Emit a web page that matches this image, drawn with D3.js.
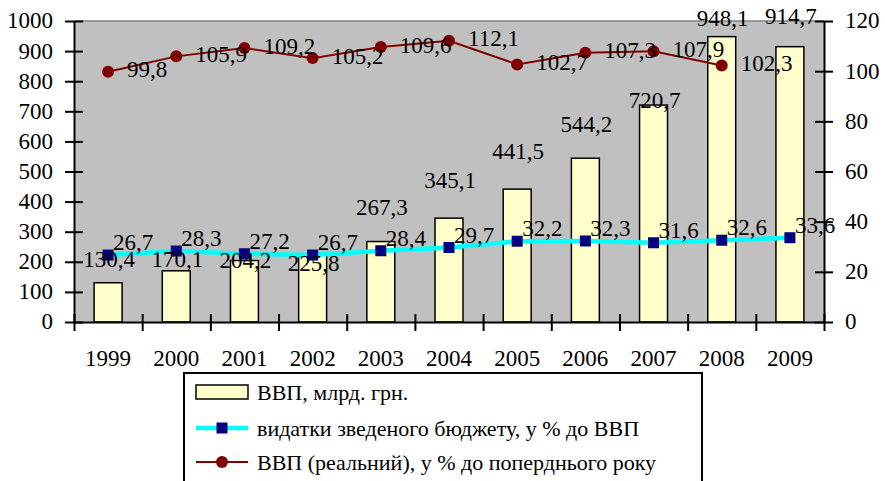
<!DOCTYPE html>
<html>
<head>
<meta charset="utf-8">
<script src="https://cdnjs.cloudflare.com/ajax/libs/d3/7.8.5/d3.min.js"></script>
<style>
  body { margin: 0; background: #fff; font-family: 'Liberation Serif', serif; }
  svg text { font-family: 'Liberation Serif', 'Times New Roman', serif !important; }
</style>
</head>
<body>
<div id="chart"></div>
<script>
// data
const years = ['1999', '2000', '2001', '2002', '2003', '2004', '2005', '2006', '2007', '2008', '2009'];
const gdp = [130.4, 170.1, 204.2, 225.8, 267.3, 345.1, 441.5, 544.2, 720.7, 948.1, 914.7];
const budgetShare = [26.7, 28.3, 27.2, 26.7, 28.4, 29.7, 32.2, 32.3, 31.6, 32.6, 33.6];
const realGdp = [99.8, 105.9, 109.2, 105.2, 109.6, 112.1, 102.7, 107.3, 107.9, 102.3];
const leftTicks = [0, 100, 200, 300, 400, 500, 600, 700, 800, 900, 1000];
const rightTicks = [0, 20, 40, 60, 80, 100, 120];
const legendLabels = ['ВВП, млрд. грн.', 'видатки зведеного бюджету, у % до ВВП', 'ВВП (реальний), у % до поперднього року'];

// bar labels were moved by hand in the original, baseline offset from bar top (px)
const barLabelNudge = [-16, -4, 7.5, 16.7, -26.5, -29.7, -29.8, -26.5, 3.3, -10.6, -22.7];

const W = 885, H = 481;
const pLeft = 74, pRight = 824, pTop = 21, pBottom = 322;
const fontSize = 23;
const serif = 'Liberation Serif';

const svg = d3.select('#chart').append('svg')
  .attr('width', W)
  .attr('height', H)
  .attr('font-family', serif);

const x = d3.scaleBand().domain(years).range([pLeft, pRight]).padding(0);
const xb = d3.scaleLinear().domain([0, years.length]).range([pLeft, pRight]);
const yL = d3.scaleLinear().domain([0, 1000]).range([pBottom, pTop]);
const yR = d3.scaleLinear().domain([0, 120]).range([pBottom, pTop]);
const cx = d => x(d) + x.bandwidth() / 2;

// plot area
svg.append('rect')
  .attr('x', pLeft).attr('y', pTop)
  .attr('width', pRight - pLeft).attr('height', pBottom - pTop)
  .attr('fill', '#c0c0c0');
svg.append('line')
  .attr('x1', pLeft).attr('x2', pRight)
  .attr('y1', pTop).attr('y2', pTop)
  .attr('stroke', '#808080').attr('stroke-width', 1.5);

// bars
const barW = x.bandwidth() * 0.41;
svg.selectAll('rect.bar')
  .data(gdp)
  .enter().append('rect')
  .attr('class', 'bar')
  .attr('x', (d, i) => cx(years[i]) - barW / 2)
  .attr('y', d => yL(d))
  .attr('width', barW)
  .attr('height', d => yL(0) - yL(d))
  .attr('fill', '#ffffcc')
  .attr('stroke', '#000')
  .attr('stroke-width', 1.5);

// axes
const axL = svg.append('g')
  .attr('transform', `translate(${pLeft},0)`)
  .call(d3.axisLeft(yL).tickValues(leftTicks).tickFormat(d3.format('d')).tickSize(9).tickPadding(12).tickSizeOuter(0));
axL.selectAll('.tick line').attr('x2', 9).attr('x1', -9);
const axR = svg.append('g')
  .attr('transform', `translate(${pRight},0)`)
  .call(d3.axisRight(yR).tickValues(rightTicks).tickFormat(d3.format('d')).tickSize(9).tickPadding(12).tickSizeOuter(0));
axR.selectAll('.tick line').attr('x1', -9).attr('x2', 9);
const axB = svg.append('g')
  .attr('transform', `translate(0,${pBottom})`)
  .call(d3.axisBottom(xb).tickValues(d3.range(years.length + 1)).tickFormat('').tickSize(9).tickSizeOuter(0));
axB.selectAll('.tick line').attr('y1', -8).attr('y2', 9);
const axYears = svg.append('g')
  .attr('transform', `translate(0,${pBottom})`)
  .call(d3.axisBottom(x).tickSize(0).tickPadding(42));
axYears.select('.domain').remove();

[axL, axR, axB].forEach(g => {
  g.select('.domain').attr('stroke', '#000').attr('stroke-width', 2);
  g.selectAll('.tick line').attr('stroke', '#000').attr('stroke-width', 2);
});
[axL, axR, axB, axYears].forEach(g => {
  g.attr('font-family', serif).attr('font-size', fontSize);
  g.selectAll('text').attr('fill', '#000');
});
axL.selectAll('text').attr('dy', '0.3em');
axR.selectAll('text').attr('dy', '0.3em');
axYears.selectAll('text').attr('dy', '0.1em');

// budget expenditure line (cyan, right axis)
const lineB = d3.line()
  .x((d, i) => cx(years[i]))
  .y(d => yR(d));
svg.append('path')
  .datum(budgetShare)
  .attr('d', lineB)
  .attr('fill', 'none')
  .attr('stroke', '#00ffff')
  .attr('stroke-width', 4.5);
svg.selectAll('rect.sq')
  .data(budgetShare)
  .enter().append('rect')
  .attr('class', 'sq')
  .attr('x', (d, i) => cx(years[i]) - 5.5)
  .attr('y', d => yR(d) - 5.5)
  .attr('width', 11)
  .attr('height', 11)
  .attr('fill', '#000080');

// real GDP line (dark red, right axis)
const lineR = d3.line()
  .x((d, i) => cx(years[i]))
  .y(d => yR(d));
svg.append('path')
  .datum(realGdp)
  .attr('d', lineR)
  .attr('fill', 'none')
  .attr('stroke', '#800000')
  .attr('stroke-width', 2);
svg.selectAll('circle.pt')
  .data(realGdp)
  .enter().append('circle')
  .attr('class', 'pt')
  .attr('cx', (d, i) => cx(years[i]))
  .attr('cy', d => yR(d))
  .attr('r', 6)
  .attr('fill', '#800000');

const fmt = d => d.toFixed(1).replace('.', ',');

// data labels
svg.selectAll('text.barlab')
  .data(gdp)
  .enter().append('text')
  .attr('class', 'barlab')
  .attr('x', (d, i) => cx(years[i]) + 1)
  .attr('y', (d, i) => yL(d) + barLabelNudge[i])
  .attr('text-anchor', 'middle')
  .attr('font-size', fontSize)
  .text(fmt);

svg.selectAll('text.blab')
  .data(budgetShare)
  .enter().append('text')
  .attr('class', 'blab')
  .attr('x', (d, i) => cx(years[i]) + 5)
  .attr('y', d => yR(d) - 5)
  .attr('font-size', fontSize)
  .text(fmt);

svg.selectAll('text.rlab')
  .data(realGdp)
  .enter().append('text')
  .attr('class', 'rlab')
  .attr('x', (d, i) => cx(years[i]) + 19)
  .attr('y', d => yR(d) + 5.5)
  .attr('font-size', fontSize)
  .text(fmt);

// legend
const lg = svg.append('g');
lg.append('rect')
  .attr('x', 184).attr('y', 373)
  .attr('width', 518).attr('height', 130)
  .attr('fill', '#fff')
  .attr('stroke', '#000')
  .attr('stroke-width', 2);

const rowY = [392, 428, 462];
lg.append('rect')
  .attr('x', 196).attr('y', rowY[0] - 7)
  .attr('width', 52).attr('height', 14)
  .attr('fill', '#ffffcc')
  .attr('stroke', '#000')
  .attr('stroke-width', 1.5);
lg.append('line')
  .attr('x1', 196).attr('x2', 248)
  .attr('y1', rowY[1]).attr('y2', rowY[1])
  .attr('stroke', '#00ffff').attr('stroke-width', 4.5);
lg.append('rect')
  .attr('x', 222 - 5.5).attr('y', rowY[1] - 5.5)
  .attr('width', 11).attr('height', 11)
  .attr('fill', '#000080');
lg.append('line')
  .attr('x1', 196).attr('x2', 248)
  .attr('y1', rowY[2]).attr('y2', rowY[2])
  .attr('stroke', '#800000').attr('stroke-width', 2);
lg.append('circle')
  .attr('cx', 222).attr('cy', rowY[2])
  .attr('r', 6)
  .attr('fill', '#800000');

lg.selectAll('text.leg')
  .data(legendLabels)
  .enter().append('text')
  .attr('class', 'leg')
  .attr('x', 257)
  .attr('y', (d, i) => rowY[i] + 8)
  .attr('font-size', 22)
  .text(d => d);

// force the serif face on every text node
svg.selectAll('text').style('font-family', "'Liberation Serif', serif", 'important');
</script>
</body>
</html>
